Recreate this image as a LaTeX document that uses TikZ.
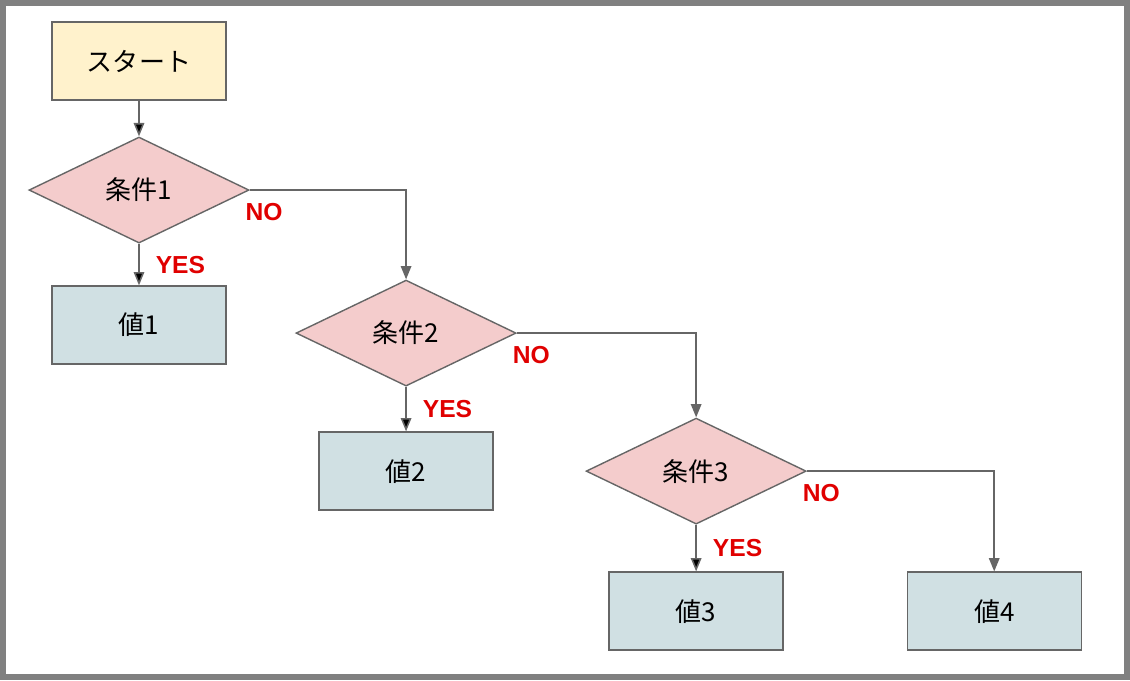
\documentclass[tikz,border=0pt]{standalone}
\usepackage{fontspec}
\setmainfont{Noto Sans CJK JP}
\newfontfamily\labelfont{Liberation Sans}
\usetikzlibrary{
        arrows.meta,
        positioning,
        shapes.geometric
    }
\definecolor{startfill}{HTML}{FFF2CC}
\definecolor{condfill}{HTML}{F4CCCC}
\definecolor{valfill}{HTML}{D0E0E3}
\definecolor{linegray}{HTML}{666666}
\definecolor{framegray}{HTML}{808080}
\definecolor{labelred}{HTML}{E00000}
\tikzset{node distance=3cm}
\tikzset{
    box/.style={rectangle,draw=linegray,line width=1pt,minimum width=4.35cm,
        minimum height=1.95cm,font=\fontsize{18.5}{22}\selectfont},
    startbox/.style={box,fill=startfill},
    valbox/.style={box,fill=valfill},
    cond/.style={diamond,draw=linegray,line width=1pt,fill=condfill,inner sep=0pt,
        minimum width=5.5cm,minimum height=2.65cm,font=\fontsize{18.5}{22}\selectfont},
    flow/.style={-{Triangle[length=9.5pt,width=7.5pt]},draw=linegray,line width=1.1pt},
    yes/.style={right,inner sep=0pt,xshift=0.4cm,text=labelred,
        font=\labelfont\bfseries\fontsize{17.5}{20}\selectfont},
    no/.style={pos=0,anchor=north west,inner sep=0pt,xshift=-0.12cm,yshift=-0.3cm,
        text=labelred,font=\labelfont\bfseries\fontsize{17.5}{20}\selectfont}
}

\begin{document}
\begin{tikzpicture}[x=0.025cm,y=-0.025cm,on grid]
    \useasboundingbox (0,0) rectangle (1130,680);
    \draw[framegray,line width=4pt] (2.8,2.8) rectangle (1127.2,677.2);
    \node[startbox] (start) at (139,61) {スタート};
    \node[cond] (c1) [below=3.225cm of start] {条件1};
    \node[valbox] (v1) [below=3.375cm of c1] {値1};
    \node[cond] (c2) [below right=3.575cm and 6.675cm of c1] {条件2};
    \node[valbox] (v2) [below=3.45cm of c2] {値2};
    \node[cond] (c3) [below right=3.45cm and 7.25cm of c2] {条件3};
    \node[valbox] (v3) [below=3.5cm of c3] {値3};
    \node[valbox] (v4) [right=7.45cm of v3] {値4};
    \path[flow]
        (start) edge (c1)
        (c1) edge node[yes] {YES} (v1)
        (c2) edge node[yes] {YES} (v2)
        (c3) edge node[yes] {YES} (v3)
        ;
    \draw[flow] (c1.east) -| node[no] {NO} (c2.north);
    \draw[flow] (c2.east) -| node[no] {NO} (c3.north);
    \draw[flow] (c3.east) -| node[no] {NO} (v4.north);
\end{tikzpicture}
\end{document}
